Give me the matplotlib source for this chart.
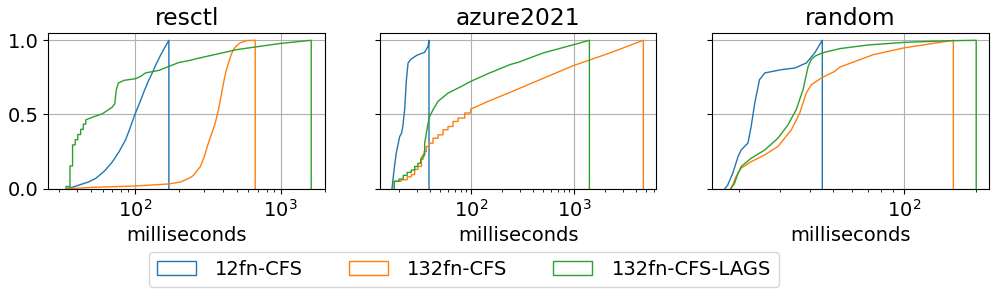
import matplotlib
matplotlib.use("Agg")
import matplotlib.pyplot as plt
from matplotlib.patches import Patch

plt.rcParams['font.family'] = ['DejaVu Sans']
plt.rcParams['font.size'] = 14

titles = ["resctl", "azure2021", "random"]
series_names = ["12fn-CFS", "132fn-CFS", "132fn-CFS-LAGS"]
colors = ["#1f77b4", "#ff7f0e", "#2ca02c"]
xlabel = "milliseconds"
yticks = [0.0, 0.5, 1.0]

# ---- resctl ----
resctl_12_x = [33.8, 38, 41.5, 48, 54, 62, 70, 78, 86.4, 92, 100, 108, 115, 123, 131.5, 140, 150, 160, 171]
resctl_12_y = [0.0, 0.012, 0.025, 0.045, 0.07, 0.12, 0.18, 0.25, 0.33, 0.40, 0.50, 0.58, 0.65, 0.72,
               0.78, 0.84, 0.90, 0.95, 1.0]

resctl_132_x = [34, 54, 100, 171, 205, 240, 252, 281, 300, 319, 337, 355, 374, 390, 405, 420, 438,
                455, 473, 500, 526, 583, 668]
resctl_132_y = [0.0, 0.01, 0.018, 0.032, 0.045, 0.075, 0.09, 0.149, 0.22, 0.307, 0.375, 0.44,
                0.532, 0.625, 0.712, 0.785, 0.847, 0.897, 0.937, 0.965, 0.982, 0.998, 1.0]

resctl_lags_x = [33.7, 33.7, 35.9, 35.9, 37.4, 37.4, 39.0, 39.0, 40.6, 40.6, 42.5, 42.5, 44.3, 44.3,
                 46.1, 46.1, 51.3, 60, 70, 72.8, 74.6, 77, 84.2, 101, 109.4, 118.3, 146, 171, 200,
                 240, 259, 499, 984, 1617]
resctl_lags_y = [0.0, 0.015, 0.015, 0.153, 0.153, 0.295, 0.295, 0.33, 0.33, 0.365, 0.365, 0.40, 0.40,
                 0.435, 0.435, 0.464, 0.482, 0.505, 0.55, 0.572, 0.667, 0.712, 0.73, 0.741, 0.757,
                 0.78, 0.797, 0.824, 0.85, 0.865, 0.874, 0.937, 0.978, 1.0]

# ---- azure2021 ----
azure_12_x = [17.1, 17.9, 18.8, 20.3, 21.2, 21.9, 22.4, 22.7, 23.6, 24.5, 26.3, 30.0, 35.5, 38.3, 39.1]
azure_12_y = [0.0, 0.126, 0.239, 0.351, 0.374, 0.43, 0.5, 0.532, 0.734, 0.847, 0.874, 0.9, 0.919,
              0.96, 1.0]

azure_132_x = [18.0, 18.0, 21.0, 21.0, 24.0, 24.0, 26.3, 26.3, 28.4, 28.4, 30.5, 30.5, 33.0, 33.0,
               35.0, 35.0, 36.8, 36.8, 39.3, 39.3, 42.8, 42.8, 47.8, 47.8, 53.5, 53.5, 59.8, 59.8,
               66.9, 66.9, 74.8, 74.8, 86.9, 86.9, 99.3, 99.3, 146, 239, 286, 984, 2239, 4710]
azure_132_y = [0.0, 0.05, 0.05, 0.06, 0.06, 0.08, 0.08, 0.095, 0.095, 0.13, 0.13, 0.15, 0.15, 0.216,
               0.216, 0.25, 0.25, 0.284, 0.284, 0.307, 0.307, 0.34, 0.34, 0.363, 0.363, 0.397,
               0.397, 0.419, 0.419, 0.453, 0.453, 0.476, 0.476, 0.51, 0.51, 0.536, 0.588, 0.649,
               0.672, 0.829, 0.915, 1.0]

azure_lags_x = [18.0, 18.0, 20.0, 20.0, 22.0, 22.0, 24.0, 24.0, 26.3, 26.3, 28.4, 28.4, 30.5, 30.5,
                32.5, 32.5, 34.2, 34.2, 35.5, 35.5, 37.0, 38.3, 39.7, 42.8, 47.8, 59.8, 80.6, 99.3,
                146, 239, 286, 504, 1000, 1410]
azure_lags_y = [0.0, 0.05, 0.05, 0.065, 0.065, 0.09, 0.09, 0.11, 0.11, 0.126, 0.126, 0.15, 0.15,
                0.171, 0.171, 0.2, 0.2, 0.228, 0.228, 0.306, 0.38, 0.44, 0.487, 0.532, 0.588, 0.644,
                0.689, 0.723, 0.775, 0.836, 0.851, 0.915, 0.971, 1.0]

# ---- random ----
random_12_x = [17.5, 18.0, 18.9, 19.9, 20.5, 21.9, 22.6, 23.4, 24.5, 25.8, 30.3, 34.5, 38.6, 41.9,
               44.7, 45.1]
random_12_y = [0.0, 0.025, 0.104, 0.216, 0.261, 0.307, 0.419, 0.577, 0.734, 0.78, 0.802, 0.813,
               0.847, 0.915, 0.99, 1.0]

random_132_x = [18.6, 19.5, 20.5, 22.6, 25.8, 29.3, 33.4, 36.2, 38.6, 40.5, 44.7, 50.8, 53.6, 74,
                100, 141.6, 161]
random_132_y = [0.0, 0.081, 0.138, 0.182, 0.228, 0.284, 0.397, 0.509, 0.645, 0.70, 0.746, 0.79,
                0.82, 0.903, 0.949, 0.986, 1.0]

random_lags_x = [18.5, 19.2, 19.9, 20.5, 22.6, 25.8, 29.3, 32.3, 35.0, 37.4, 39.3, 40.5, 41.9, 44.0,
                 46.1, 53.6, 70, 100, 156, 201]
random_lags_y = [0.0, 0.034, 0.104, 0.149, 0.205, 0.261, 0.34, 0.43, 0.532, 0.667, 0.824, 0.87,
                 0.892, 0.908, 0.919, 0.944, 0.968, 0.986, 0.997, 1.0]

panels = [
    [(resctl_12_x, resctl_12_y), (resctl_132_x, resctl_132_y), (resctl_lags_x, resctl_lags_y)],
    [(azure_12_x, azure_12_y), (azure_132_x, azure_132_y), (azure_lags_x, azure_lags_y)],
    [(random_12_x, random_12_y), (random_132_x, random_132_y), (random_lags_x, random_lags_y)],
]
xlims = [(25.5, 2010), (13.08, 6250), (15.45, 227.6)]

fig = plt.figure(figsize=(9.97, 2.96), dpi=100)
positions = [
    [48.3 / 997, 0.3625, 276.7 / 997, 0.5265],
    [380 / 997, 0.3625, 276 / 997, 0.5265],
    [712 / 997, 0.3625, 277 / 997, 0.5265],
]

for i, (pos, data) in enumerate(zip(positions, panels)):
    ax = fig.add_axes(pos)
    for (xs, ys), c in zip(data, colors):
        ax.plot(list(xs) + [xs[-1]], list(ys) + [0.0], color=c, lw=1.0)
    ax.set_xscale('log')
    ax.set_xlim(*xlims[i])
    ax.set_ylim(0, 1.05)
    ax.set_yticks(yticks)
    if i > 0:
        ax.set_yticklabels([])
    ax.grid(True, which='major', color='#b0b0b0', lw=0.8)
    ax.set_axisbelow(True)
    ax.set_title(titles[i], fontsize=16.8)
    ax.set_xlabel(xlabel)

handles = [Patch(facecolor='none', edgecolor=c, lw=1.0, label=n)
           for c, n in zip(colors, series_names)]
fig.legend(handles=handles, loc='upper left', bbox_to_anchor=(149 / 997, 1 - 252 / 296),
           ncol=3, borderaxespad=0, fontsize=14, columnspacing=2.35, handletextpad=1.0,
           handlelength=2.0)

fig.savefig("out.png", dpi=100)
